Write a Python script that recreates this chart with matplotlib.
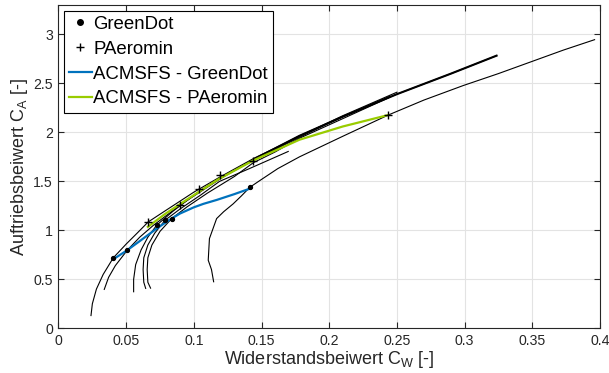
import matplotlib
matplotlib.use("Agg")
import matplotlib.pyplot as plt
from matplotlib.lines import Line2D

plt.rcParams['font.family'] = ['Liberation Sans', 'DejaVu Sans']

# Measured polar curves (C_W, C_A)
c1_cw = [0.024, 0.025, 0.028, 0.033, 0.0405, 0.050, 0.058, 0.0663, 0.080, 0.100, 0.120, 0.145, 0.178, 0.210, 0.250]
c1_ca = [0.13, 0.25, 0.40, 0.55, 0.72, 0.86, 0.97, 1.086, 1.21, 1.39, 1.55, 1.74, 1.96, 2.17, 2.41]

c2_cw = [0.0338, 0.037, 0.042, 0.0508, 0.060, 0.070, 0.0897, 0.100, 0.120, 0.145, 0.178, 0.210, 0.250, 0.290, 0.3236]
c2_ca = [0.397, 0.52, 0.64, 0.797, 0.93, 1.05, 1.256, 1.35, 1.53, 1.73, 1.965, 2.16, 2.39, 2.60, 2.783]

c3_cw = [0.0555, 0.0555, 0.057, 0.061, 0.066, 0.0725, 0.085, 0.104, 0.120, 0.145, 0.178, 0.210, 0.245]
c3_ca = [0.373, 0.50, 0.65, 0.80, 0.93, 1.052, 1.20, 1.40, 1.54, 1.72, 1.95, 2.16, 2.37]

c4_cw = [0.0644, 0.063, 0.0625, 0.063, 0.066, 0.071, 0.0787, 0.090, 0.105, 0.119, 0.141, 0.1697]
c4_ca = [0.407, 0.47, 0.60, 0.72, 0.85, 0.97, 1.103, 1.22, 1.36, 1.50, 1.63, 1.805]

c5_cw = [0.068, 0.066, 0.0655, 0.066, 0.069, 0.075, 0.0836, 0.095, 0.110, 0.130, 0.1439, 0.160, 0.178, 0.210, 0.245]
c5_ca = [0.41, 0.47, 0.60, 0.72, 0.85, 0.99, 1.12, 1.24, 1.38, 1.55, 1.69, 1.80, 1.94, 2.14, 2.36]

c6_cw = [0.1146, 0.113, 0.1106, 0.1115, 0.1168, 0.122, 0.129, 0.135, 0.1414, 0.150, 0.162, 0.178, 0.210, 0.2436, 0.270, 0.299, 0.325, 0.348, 0.373, 0.396]
c6_ca = [0.475, 0.60, 0.695, 0.916, 1.12, 1.19, 1.27, 1.35, 1.44, 1.52, 1.63, 1.75, 1.96, 2.177, 2.33, 2.478, 2.60, 2.715, 2.84, 2.946]

# GreenDot and PAeromin points
gd_cw = [0.0405, 0.0508, 0.0725, 0.0787, 0.0836, 0.1414]
gd_ca = [0.72, 0.797, 1.052, 1.103, 1.12, 1.44]
pa_cw = [0.0663, 0.0897, 0.104, 0.119, 0.1439, 0.2436]
pa_ca = [1.086, 1.256, 1.426, 1.56, 1.707, 2.177]

# ACMSFS model lines
acm_gd_cw = [0.0405, 0.050, 0.060, 0.0725, 0.0823, 0.0897, 0.100, 0.107, 0.1168, 0.130, 0.1414]
acm_gd_ca = [0.705, 0.79, 0.89, 1.018, 1.11, 1.171, 1.235, 1.27, 1.31, 1.37, 1.426]
acm_pa_cw = [0.066, 0.078, 0.090, 0.1045, 0.118, 0.144, 0.178, 0.210, 0.2436]
acm_pa_ca = [1.035, 1.16, 1.27, 1.40, 1.52, 1.714, 1.925, 2.06, 2.177]

xticks = [0, 0.05, 0.1, 0.15, 0.2, 0.25, 0.3, 0.35, 0.4]
xticklabels = ['0', '0.05', '0.1', '0.15', '0.2', '0.25', '0.3', '0.35', '0.4']
yticks = [0, 0.5, 1, 1.5, 2, 2.5, 3]
yticklabels = ['0', '0.5', '1', '1.5', '2', '2.5', '3']

fig = plt.figure(figsize=(6.09, 3.73), dpi=100)
ax = fig.add_axes([58.5/609, 1 - 328.3/373, (600 - 58.5)/609, (328.3 - 5)/373])

axc = '#262626'
for cw, ca in [(c1_cw, c1_ca), (c2_cw, c2_ca), (c3_cw, c3_ca),
               (c4_cw, c4_ca), (c5_cw, c5_ca), (c6_cw, c6_ca)]:
    ax.plot(cw, ca, color='black', lw=0.8, zorder=2)
# the upper part of the second polar appears heavier (dense, noisy samples)
ax.plot(c2_cw[9:], c2_ca[9:], color='black', lw=1.5, zorder=2)

blue = '#0072BD'
green = '#99CC00'
ax.plot(acm_gd_cw, acm_gd_ca, color=blue, lw=1.6, zorder=3)
ax.plot(acm_pa_cw, acm_pa_ca, color=green, lw=1.6, zorder=3)
ax.plot(gd_cw, gd_ca, linestyle='none', marker='o', ms=2.8, color='black', zorder=4)
ax.plot(pa_cw, pa_ca, linestyle='none', marker='+', ms=6, mew=1.0, color='black', zorder=4)

ax.set_xlim(0, 0.4)
ax.set_ylim(0, 3.3)
ax.set_xticks(xticks)
ax.set_xticklabels(xticklabels)
ax.set_yticks(yticks)
ax.set_yticklabels(yticklabels)
ax.grid(True, color='#e3e3e3', lw=0.8)
ax.set_axisbelow(True)
ax.tick_params(direction='in', top=True, right=True, length=4, width=0.8,
               colors=axc, labelsize=10.2, pad=4)
for s in ax.spines.values():
    s.set_color(axc)
    s.set_linewidth(0.8)

ax.set_xlabel('Widerstandsbeiwert C$_\\mathregular{W}$ [-]', fontsize=13, color=axc, labelpad=1)
ax.set_ylabel('Auftriebsbeiwert C$_\\mathregular{A}$ [-]', fontsize=13, color=axc, labelpad=2)

handles = [
    Line2D([], [], linestyle='none', marker='o', ms=4, color='black'),
    Line2D([], [], linestyle='none', marker='+', ms=6, mew=1.0, color='black'),
    Line2D([], [], color=blue, lw=1.6),
    Line2D([], [], color=green, lw=1.6),
]
labels = ['GreenDot', 'PAeromin', 'ACMSFS - GreenDot', 'ACMSFS - PAeromin']
leg = ax.legend(handles, labels, loc='upper left', fontsize=13.4, frameon=True, fancybox=False,
                edgecolor='black', framealpha=1, handlelength=1.2, handletextpad=0.08,
                labelspacing=0.42, borderpad=0.28, borderaxespad=0.3)
leg.get_frame().set_linewidth(0.8)

fig.savefig('out.png', dpi=100)
